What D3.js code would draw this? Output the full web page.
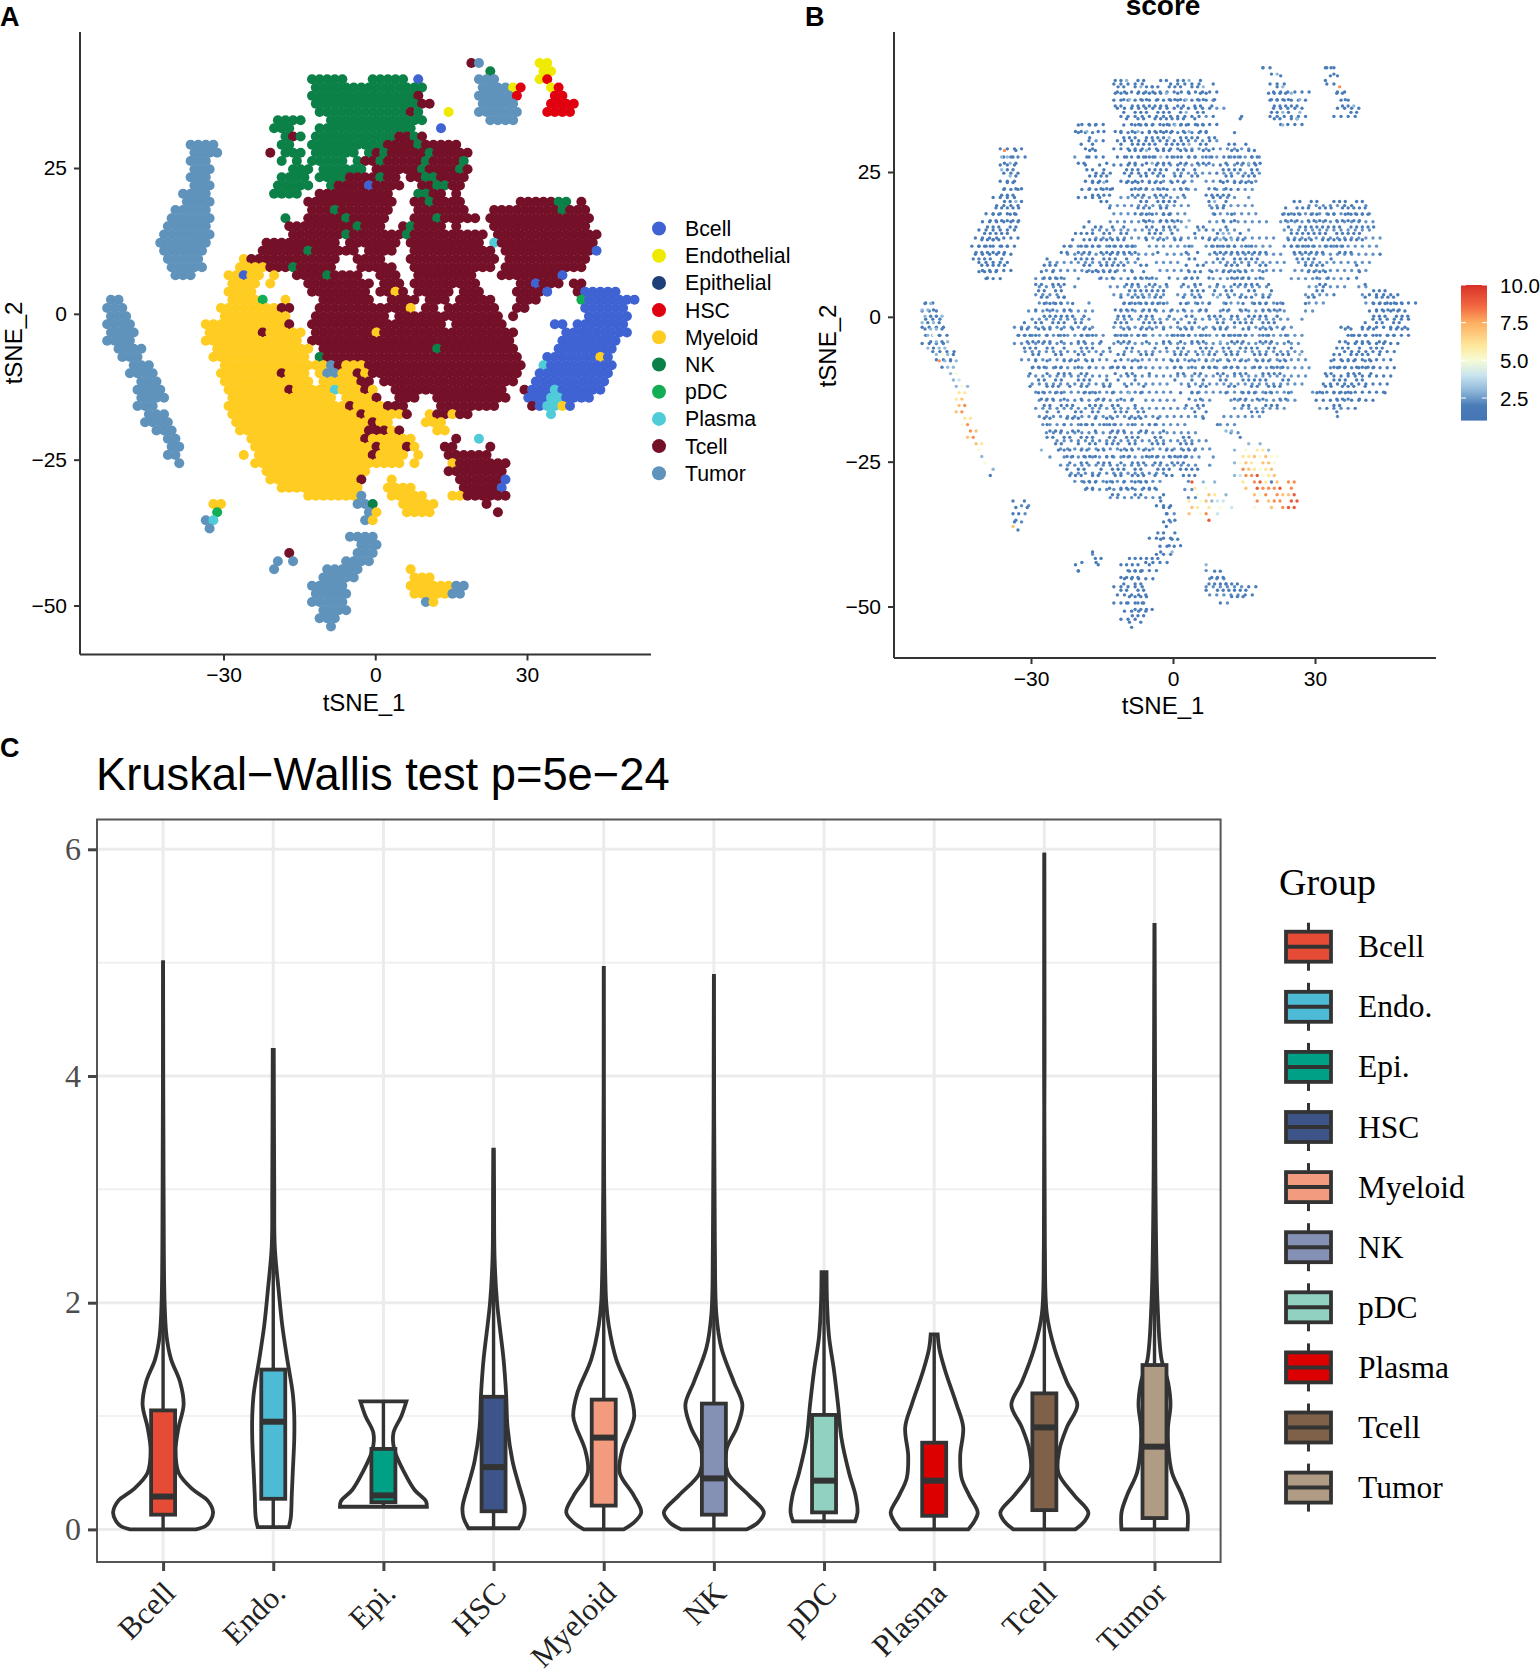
<!DOCTYPE html>
<html>
<head>
<meta charset="utf-8">
<script src="https://cdn.jsdelivr.net/npm/d3@7"></script>
<style>
body { margin: 0; background: #fff; }
text { font-family: "Liberation Sans", Arial, sans-serif; fill: #000; }
.serif text, text.serif { font-family: "Liberation Serif", "Times New Roman", serif; }
</style>
</head>
<body>
<svg width="1540" height="1669"></svg>
<script>
// cell types of panel A
var clusterNames = ["Bcell","Endothelial","Epithelial","HSC","Myeloid","NK","pDC","Plasma","Tcell","Tumor"]
var clusterColors = ["#3f63d3","#eeea00","#1f3f78","#e0000f","#ffcc22","#0b8148","#12ad55","#50ccd8","#751029","#5f93bc"]
var clusterKeys = ["B","E","I","H","M","N","P","S","T","U"]
// usual score of each cell type in panel B
var clusterScores = [2,2,2,2,2.3,2,2.3,2.2,2.4,2]

// panel A cells: one string per row, "col:cells", top row first
var mapRowsA = [
"48:TU 57:EE","50:N 57:EE",
"27:NNNNN 35:NNNNN 41:B 49:UUU 57:EH",
"27:NNNNNNNNNNNNNN 41:N 49:UUUU 53:E 54:H 58:EH",
"27:NNNNNNNNNNNNNNN 41:T 49:UUUUU 54:H 59:HH",
"27:NNNNNNNNNNNNNN 41:TT 49:UUUUU 58:HHHH",
"28:NNNNNNNNNNNNTN 45:E 49:UUUUUU 58:HHHH",
"22:NNNN 29:NNNNNNNNNNNN 41:N 50:UUU 53:U",
"22:NNN 28:NNNNNNNNNNNNN 44:B",
"23:NTN 27:NNNNNNNNNNNTTNT",
"11:UUUU 23:NN 27:NNNNNNNNNNTTTTNTTTTT",
"11:UUUU 21:T 23:NNN 27:NNNNNN 34:NTNTTTTTNTTTTT",
"11:UUU 23:N 25:N 27:NNNNN 33:NTTNTTTTTNTTTTN",
"11:UUU 24:NNN 28:NNNNNN 35:TTTTTTNTTTTNT",
"11:UUU 23:NNNN 28:NNNNTTTTNTT 40:TTNNTTTT",
"11:UUU 22:NNNNN 29:NTTTTBTTTT 41:TTNNTT",
"10:UUUU 22:NNNN 28:TTTTTTTTTT 41:NNTT 46:T",
"10:UUUU 26:TTTTTTTTTTTT 40:TTNTTTT 54:TTTTT 59:NN 62:T",
"9:UUUUU 27:TTTNTTTTTTT 41:TTTTTTT 51:TTTTTTTTTNTTT",
"8:UUUUUU 23:N 26:TTTTTNTTTTT 40:TTTNTTTTT 50:TTTTTTTTTTTTTT",
"8:UUUUUU 24:TTTTTTTTTNTTT 39:TNTTTT 46:T 51:TTTTTTTTTTTTT",
"7:UUUUUUU 24:TTTTTTTNTTTTTTTNTTTTTTTTTT 51:TTTTTTTTTTTTTT",
"7:UUUUUUU 21:TTTTTTTTTT 32:TTTTTTT 40:TTTTTTTTTT 51:STTTTTTTTTTTTT",
"7:UUUUUU 20:TTTTTTNTTTTTT 34:TTTT 40:TTTTTTTTTTT 52:TTTTTTTTTTTTB",
"8:UUUUU 18:MTTTTTTTTTTTT 33:TTTT 40:TTTTTTTTTTTT 53:TTTTTTTTTTT",
"8:UUUUU 17:MMMMTTTNTTTTT 33:TTTTT 40:TTTTTTTTTTT 52:TTTTTTTTTTT",
"9:UUU 16:MMBMM 22:M 25:TTTTNTTTT 36:TTT 41:TTTTTTTT 52:TTTTTTTTB",
"16:MMMM 21:M 26:TTTTTTTTT 36:TTT 40:TTTTTTTTT 54:TTBTTT 61:TT",
"16:MMMM 27:TTTTTTTT 36:TTMT 41:TTTTT 47:TTT 54:TTTTB 62:TBBBBB",
"0:UU 16:MMMMP 23:M 28:TTTTTTT 37:TTTT 42:TTT 46:TTTTT 54:TTT 62:PBBBBBBB",
"0:UUU 15:MMMMMMMMT 24:T 28:TTTTTTTT 36:TTTTM 42:TT 45:TTTTTTT 54:TT 63:BBBBBB",
"0:UUU 15:MMMMMMMMM 27:TTTTTTTTTT 38:TTTTTTTTTTTTTT 53:T 63:BBBBBB",
"0:UUUU 13:MMMMMMMMMMMT 27:TTTTTTTTTTTTTTTTTT 46:TTTTTTT 59:BB 62:BBBBBBB",
"0:UUUU 13:MMMMMMMTMMMMM 27:TTTTTTTTMTTTTTTTTTTTTTTTTTT 60:BBBBBBBBB",
"0:UUUU 13:MMMMMMMMMMMMM 27:TTTTTTT 34:TTTTTTTTTTTTTTTTTTTT 60:BBBBBBBB",
"1:UUUU 14:MMMMMMMMMMMMM 28:TTTTT 33:TTTTTTTTTTNTTTTTTTTTT 59:BBBBBBBB",
"2:UUU 14:MMMMMMMMMMMMM 28:NTTTTT 34:TTTTTTTTTTTTTTTTTTTTT 58:BBBBBBBMB",
"3:UUU 15:MMMMMMMMMMMMM 28:MUTMMMT 35:TTTTTTTTTTTTTTTTTTTT 57:SBBBBBBBBB",
"3:UUUU 15:MMMMMMMMTMMM 28:MUUMMTM 35:TTTTTTTTTTTTTTTTTTTT 57:BBBBBBBBBB",
"4:UUU 15:MMMMMMMMMMMM 28:MMMMMTT 36:TTTTTTTTTTTTTTTTTT 56:BBBBBBBBBB",
"4:UUUU 16:MMMMMMMMTMMMM 29:MSMMMTM 38:TTTTTTTTTTTTTTT 55:TBBBSBBBBBB",
"4:UUUU 16:MMMMMMMMMMMMMM 31:MMMMT 38:TTT 43:TTTTTTTTTT 55:BBB 58:SS 60:BBBB",
"4:UUU 16:MMMMMMMMMMMMMMMMTMMMM 37:TTT 44:TTTTTTTT 56:TBSSMB",
"5:UUU 16:MMMMMMMMMMMMMMMMMTMMMMMT 42:MTTM 46:TT 58:S",
"5:UUUU 17:MMMMMMMMMMMMMMMMMMTMM 42:MMM",
"6:UUU 17:MMMMMMMMMMMMMMMMMTTTMT 43:MM",
"8:UU 19:MMMMMMMMMMMMMMMTMMMMMM 46:T 49:S",
"8:UU 19:MMMMMMMMMMMMMMMMTMMMTM 44:TT 50:T",
"8:UU 18:M 20:MMMMMMMMMMMMMMMTMMMM 41:M 45:TTTTTT",
"9:U 19:MMMMMMMMMMMMMMMMMMMM 40:M 45:MTTTTTTT",
"21:MMMMMMMMMMMMMM 45:TTTTTTTT",
"21:MMMMMMMMMMMMT 37:M 46:TTTTTTB",
"23:MMMMMMMMMMM 37:MMMM 47:TTTTTB",
"26:MMMMMMMU 37:MMMMM 45:MMTTTTTT",
"14:MM 33:UUN 39:MMMMM 50:T",
"14:P 34:UM 39:MMMM 51:T",
"13:US 34:UM","13:U","32:UUUU","33:UUU",
"24:T 33:UUU","22:U 24:U 31:UUUU","22:U 29:UUUUU 40:M","28:UUUUU 40:MMM",
"27:UUUUU 40:MMMMMMUU","27:UUUUU 40:MMMMMUU","27:UUUUU 42:UM","28:UUUU","28:UUU","29:U"
]

// panel B cells: digit = score, 0 = gap
var mapRowsB = [
"60:2 71:22","61:23 72:2",
"34:223022 42:22022302 71:2",
"34:2202322 40:220222 47:223 62:23 73:8",
"34:222022 40:222302 47:2022 61:22223 73:22",
"35:23022 41:202223 48:22 51:2 61:222203 74:2",
"34:220222 40:2222022022 51:2 62:22222 74:223",
"35:2022 39:20222023022 61:2232 66:3 75:22",
"36:2 38:22022222202 56:2 62:22022 66:3",
"27:2022 35:2 37:2222022322022 63:3",
"27:223022 34:22023022222023022",
"29:20 35:22202222302222022",
"28:2 30:2 35:2022222022223022 54:2202",
"14:8 16:2 29:22 36:222302220222 49:22 54:22022",
"14:3 15:32 29:2 36:2022223022 47:22022 54:222022",
"14:23 16:2 27:220 32:2 36:22023222 45:220222 53:2022322",
"14:322 29:220 32:2 36:22202222 45:2202 53:2222022",
"15:32 29:2222 36:2022022 44:22022 53:220222",
"15:22 30:223 36:2220222 44:202 53:20222 58:2",
"14:2 16:22 29:2022 33:2 37:222022 45:22 50:2202",
"14:222 30:2222 37:2220222 46:2 50:22222",
"14:2232 31:22 38:22022 42:222 50:2302 65:22022 72:222022",
"13:22222 33:2 38:22202 42:220 51:222 64:2 66:22202 71:22022222",
"12:22022 38:222022 42:22 51:2 54:2 63:2222022022022222",
"12:222222 39:2202222 47:3 53:2 55:2 64:22202222022222",
"11:222022 28:2 30:22 33:202 39:220222 46:3 48:22 53:2 64:2022222222022222",
"11:22222 27:2222022 35:22 40:222 44:2 48:2 52:23302 65:2222222022222",
"10:2222 12:2 26:2 28:2222222 35:2 39:2 41:22 44:22 50:2232322 64:22222022222222",
"10:222022 25:22 28:2222022222 37:2 47:2 51:22222022 65:2222202222",
"9:222222 24:22 27:222022222 36:22 41:2 46:2 48:2 51:2222222222 65:222222 73:222",
"9:2222 14:2 22:2 27:22220222 36:2 38:2 47:22 52:220222 58:22 66:2222 72:2",
"10:22222 21:222 28:22022222 38:22 46:2 48:22 53:22202 59:22 67:2222 76:2",
"10:2222 21:2 23:2 29:222222 37:2 39:2 47:222 51:2 53:22222 60:2 68:2222 77:2",
"11:2 21:2222 31:2 33:2 37:2222 43:2 46:222 50:2 54:2222 59:2 69:2 71:2 76:2",
"20:220222 36:222022 43:2 46:2 48:22 52:2 55:22 57:222 61:2 70:22 78:2",
"20:2202 24:2 36:2222222 47:222 51:2 53:22 57:22 61:2 69:22 79:222",
"21:22022 25:2 35:2 37:222322 46:2 48:22 52:3 54:2 56:222 60:22 68:22 78:2 80:2222",
"0:23 21:2222 26:2 35:22222222 45:22 48:2 50:2 53:2 56:2 58:222 62:22 67:2 79:222222",
"0:332 20:2 22:22 25:22 34:2222 39:222 44:2 46:2 49:22 53:22 56:22 60:2222 80:2222 84:2",
"0:3223 21:222 24:222 28:2 34:222 38:222 43:2 46:22 50:222 54:22 57:2222 62:2 79:222 83:222",
"0:3232 18:2 20:22 23:222 27:22 34:222 39:2222 45:2 47:22 52:22 55:2222 60:222 78:2 80:22022",
"0:2332 17:22 20:222 24:2 26:2 28:22 35:22 38:222 42:2 45:222 49:2 51:222 56:22 59:222 63:2 74:22 77:222 82:2222",
"1:352 17:2222 22:2 24:22 28:222 34:222 38:22 44:2222 49:22 53:22222 60:22 64:2 75:2222 80:2 82:22",
"1:2323 18:22222 24:2 27:22 31:2 34:222 39:2 42:22 45:2 47:222 52:3 54:222 59:222 64:2 73:22 76:222 80:22",
"1:3233 18:222 22:22 25:2 28:222 33:2 36:22 41:2 43:2 45:22 49:222 53:22 56:2222 61:22 65:2 73:222 77:2 79:222",
"2:3532 19:22 23:22 27:22 31:2 34:22 38:222 44:222 48:2322 53:222 58:222 62:222 66:3 72:22 75:2222 80:2",
"3:8323 20:2 22:2 25:222 29:22 34:2 37:22 44:22 47:22 50:232 54:2 56:22 59:222 63:22 72:2 74:222 78:22",
"3:23 5:3 19:222 23:22 27:2 29:2 33:222 38:2 44:22 47:2 49:222 53:222 58:22 61:222 72:222 76:2222",
"5:35 19:2 22:2 24:222 28:22 34:2 36:22 40:2 45:22 48:22 52:22 55:222 60:2222 71:22 75:222 79:2",
"5:34 20:22 23:22 27:222 32:2 34:2 37:2 44:2 47:2 49:2 52:22 56:222 59:22 63:22 72:222 76:22",
"6:353 19:2 22:222 26:2 28:22 32:22 36:2 39:2 47:2 49:22 54:22 58:22 61:222 71:22 74:222 78:2",
"6:66 20:22 23:22 28:222 33:2 36:3 38:2 45:2 47:22 53:2 56:222 60:22 64:2 69:22 72:222 75:2 81:2",
"6:67 21:222 25:2 28:2 31:22 35:2 37:2 47:2 49:2 55:222 59:22 63:22 73:222 77:2",
"6:78 21:22 24:222 29:222 33:22 37:2 46:2 48:22 56:22 60:222 72:22",
"6:78 22:2 24:2 27:22 30:22 34:222 38:22 48:2 50:2 58:222 73:2",
"7:66 21:22 25:222 30:2 32:22 36:222 41:2 49:2",
"7:58 22:2 25:2 28:222 32:222 37:2 40:22 52:2",
"8:87 22:222 26:22 30:2 33:222 38:22 42:2 53:33",
"8:78 22:22 25:22 28:222 33:22 36:222 41:22 46:22 56:2",
"9:76 23:22 27:2 29:22 32:222 36:22 40:222 45:222 57:3 59:3",
"10:5 21:3 24:222 28:22 31:22 35:222 39:22 43:22 46:222 55:3 57:5 59:66 61:3",
"10:3 25:22 28:222 32:22 35:22 39:222 43:2222 46:2 56:66 58:757 61:55",
"11:5 26:2 28:22 31:222 35:2 37:222 41:22 44:222 55:357 58:6 60:775",
"12:3 25:2 27:22 31:2 33:222 37:22 41:222 45:2222 56:8 57:76 59:5 60:67",
"12:2 26:222 30:22 34:22 37:222 41:2 43:22 46:222 55:34 57:889 60:56 62:7",
"28:222 32:22 35:2 37:222 47:9 49:3 51:3 56:6 58:8962 62:7 64:88",
"29:22 33:2 35:222 39:22 41:2 48:6 50:5 57:7 59:988 62:89 65:8",
"33:22 37:22 42:2 48:5 50:76 53:3 58:75 60:8 62:87 64:79",
"16:2 18:2 42:2 47:6 49:573 52:44 59:8 61:78 63:8 65:99",
"16:2 18:2 42:22 47:76 50:6 52:5 54:4 58:5 61:7 63:8 64:99",
"16:2 17:2 43:2 47:7 49:58 52:4",
"16:2 43:22 50:9","16:7 43:2","41:22 44:2","42:2 44:22","43:2 45:2",
"30:2 42:2 44:3","30:22 36:22 38:222 41:2","27:2 31:2 35:2222 40:2 50:3",
"27:2 36:222 38:2 51:22","35:2222 51:222","35:2022 50:2222 53:222",
"35:22 38:22 50:2 52:222222","36:222 39:2 54:222","36:2 38:22","37:222 40:2","37:22 39:2","36:2 38:2"
]
// high-score patches of panel B [xmin,xmax,ymin,ymax], only the digit map is used there
var hotZones = [[12,27,-36,-20],[5,16,-36,-27],[-50,-38,-28,-8]]

var tsneXTicks = [-30,0,30]
var tsneYTicks = [25,0,-25,-50]

// score colour bar
var scoreStops = [1,2,3,4,5,6,7.5,8.5,10]
var scoreColors = ["#4575b4","#4a7cb8","#8fb8d8","#c9e4ef","#f6fbd6","#fee79a","#fdae61","#f46d43","#d73027"]
var scoreTicks = [2.5,5,7.5,10]

// panel C
var groups = ["Bcell","Endo.","Epi.","HSC","Myeloid","NK","pDC","Plasma","Tcell","Tumor"]
var groupColors = ["#E64B35","#4DBBD5","#00A087","#3C5488","#F39B7F","#8491B4","#91D1C2","#DC0000","#7E6148","#B09C85"]
var boxLow = [0.13,0.27,0.24,0.16,0.21,0.13,0.15,0.12,0.17,0.10]
var boxMed = [0.29,0.95,0.30,0.55,0.81,0.45,0.43,0.43,0.90,0.73]
var boxHigh = [1.05,1.41,0.71,1.17,1.145,1.11,1.01,0.765,1.20,1.45]

// violin outlines: [value, relative half width]
var violinBcell = [[0,.66],[.03,.85],[.08,.95],[.15,1],[.25,.9],[.35,.6],[.5,.31],[.7,.25],[.9,.31],[1.1,.41],[1.3,.34],[1.5,.16],[1.7,.07],[2,.03],[3,.01],[5.02,0]]
var violinEndo = [[.02,.31],[.1,.35],[.3,.37],[.5,.39],[.8,.42],[1,.42],[1.2,.39],[1.5,.28],[1.8,.18],[2.1,.11],[2.5,.03],[3,.02],[4.23,.01]]
var violinEpi = [[.2,.87],[.25,.85],[.35,.62],[.5,.42],[.7,.22],[.85,.2],[1,.36],[1.13,.46]]
var violinHSC = [[.01,.5],[.1,.6],[.2,.62],[.4,.5],[.6,.38],[.9,.28],[1.2,.25],[1.5,.2],[2,.07],[2.4,.02],[3,.01],[3.35,.005]]
var violinMyeloid = [[0,.4],[.06,.6],[.15,.75],[.3,.6],[.5,.32],[.7,.37],[.9,.55],[1,.61],[1.2,.53],[1.5,.25],[1.8,.1],[2,.05],[3,.01],[4.97,0]]
var violinNK = [[0,.65],[.06,.88],[.15,1],[.3,.7],[.5,.28],[.7,.25],[.9,.46],[1.1,.57],[1.3,.4],[1.6,.15],[1.9,.05],[2.5,.02],[4.9,0]]
var violinPDC = [[.07,.62],[.15,.67],[.3,.63],[.5,.5],[.8,.35],[1.1,.28],[1.4,.2],[1.7,.1],[2,.06],[2.27,.05]]
var violinPlasma = [[0,.68],[.07,.8],[.15,.87],[.3,.7],[.45,.55],[.65,.52],[.9,.58],[1.1,.45],[1.4,.22],[1.6,.1],[1.72,.07]]
var violinTcell = [[0,.62],[.07,.8],[.15,.88],[.3,.6],[.5,.28],[.7,.3],[.9,.45],[1.1,.66],[1.3,.45],[1.6,.2],[1.9,.05],[2.5,.01],[5.97,0]]
var violinTumor = [[0,.66],[.15,.66],[.3,.55],[.5,.35],[.7,.28],[.9,.27],[1.1,.32],[1.3,.27],[1.5,.14],[2,.06],[3,.02],[3.5,.015],[5.35,0]]
var violins = [violinBcell,violinEndo,violinEpi,violinHSC,violinMyeloid,violinNK,violinPDC,violinPlasma,violinTcell,violinTumor]

var svg = d3.select("svg")
var ink = "#333"

// reads a row list into cells on a staggered grid in tSNE units
function readCells(rows, stepX, stepY) {
  var cells = []
  rows.forEach(function(row, i) {
    row.split(" ").forEach(function(tok) {
      var p = tok.split(":")
      p[1].split("").forEach(function(c, k) {
        if (c == "0") return
        cells.push({
          x: -53 + stepX * (+p[0] + k + (i % 2 ? 0.5 : 0)),
          y: 43 - stepY * i,
          key: c
        })
      })
    })
  })
  return cells
}

function tsneAxes(xs, ys, left, right, top, bottom) {
  var ax = svg.append("g").attr("transform","translate(0,"+bottom+")")
    .call(d3.axisBottom(xs).tickValues(tsneXTicks).tickSize(6).tickSizeOuter(0).tickPadding(7))
  var ay = svg.append("g").attr("transform","translate("+left+",0)")
    .call(d3.axisLeft(ys).tickValues(tsneYTicks).tickSize(6).tickSizeOuter(0).tickPadding(7))
  ;[ax,ay].forEach(function(a) {
    a.select("path").remove()
    a.selectAll("line").attr("stroke",ink).attr("stroke-width",2)
    a.selectAll("text").style("font-size","21px").style("font-family","Liberation Sans").attr("fill","#000")
  })
  svg.append("line").attr("x1",left).attr("x2",left).attr("y1",top).attr("y2",bottom).attr("stroke",ink).attr("stroke-width",2)
  svg.append("line").attr("x1",left).attr("x2",right).attr("y1",bottom).attr("y2",bottom).attr("stroke",ink).attr("stroke-width",2)
}

function axisTitles(xCenter, xBase, yCenter, yBase) {
  svg.append("text").text("tSNE_1").attr("x",xCenter).attr("y",xBase)
    .attr("text-anchor","middle").style("font-size","24px")
  svg.append("text").text("tSNE_2").attr("text-anchor","middle").style("font-size","24px")
    .attr("transform","translate("+yBase+","+yCenter+") rotate(-90)")
}

// Panel A
var xA = d3.scaleLinear().domain([-30,30]).range([223.5,527])
var yA = d3.scaleLinear().domain([25,-50]).range([168,605.5])
var colorA = d3.scaleOrdinal().domain(clusterKeys).range(clusterColors)
var cellsA = readCells(mapRowsA,1.5,1.4)

svg.append("g").selectAll("circle").data(cellsA).enter().append("circle")
  .attr("cx", function(d){return xA(d.x)})
  .attr("cy", function(d){return yA(d.y)})
  .attr("r", 5)
  .attr("fill", function(d){return colorA(d.key)})

tsneAxes(xA, yA, 80, 651, 32, 654.5)
axisTitles(364, 711, 343, 22)

var legA = svg.append("g").selectAll("g").data(clusterNames).enter().append("g")
  .attr("transform", function(d,i){return "translate(659,"+(228.5+i*27.2)+")"})
legA.append("circle").attr("r",7).attr("fill", function(d,i){return clusterColors[i]})
legA.append("text").text(function(d){return d}).attr("x",26).attr("y",7.5).style("font-size","21.3px")

// Panel B
var xB = d3.scaleLinear().domain([-30,30]).range([1031,1315])
var yB = d3.scaleLinear().domain([25,-50]).range([172,606.5])
var scoreColor = d3.scaleLinear().domain(scoreStops).range(scoreColors)
var cellScore = d3.scaleOrdinal().domain(clusterKeys).range(clusterScores)

// same cells as panel A, outside the high-score patches
var baseCells = cellsA.filter(function(d) {
  return !hotZones.some(function(z){return d.x>z[0] && d.x<z[1] && d.y>z[2] && d.y<z[3]})
})
svg.append("g").selectAll("circle").data(baseCells).enter().append("circle")
  .attr("cx", function(d){return xB(d.x)})
  .attr("cy", function(d){return yB(d.y)})
  .attr("r", 1.7)
  .attr("fill", function(d){return scoreColor(cellScore(d.key))})

svg.append("g").selectAll("circle").data(readCells(mapRowsB,1.2,1.1)).enter().append("circle")
  .attr("cx", function(d){return xB(d.x)})
  .attr("cy", function(d){return yB(d.y)})
  .attr("r", 1.7)
  .attr("fill", function(d){return scoreColor(+d.key)})

tsneAxes(xB, yB, 894, 1436, 32, 658)
axisTitles(1163, 714, 346, 836)

svg.append("text").text("score").attr("x",1163).attr("y",15).attr("text-anchor","middle")
  .style("font-size","28px").style("font-weight","bold")

// colour bar
var barScale = d3.scaleLinear().domain([2.5,10]).range([398,285])
var grad = svg.append("defs").append("linearGradient").attr("id","scoreBar")
  .attr("x1",0).attr("x2",0).attr("y1",1).attr("y2",0)
grad.selectAll("stop").data(scoreStops).enter().append("stop")
  .attr("offset", function(d){return (d-1)/9})
  .attr("stop-color", function(d,i){return scoreColors[i]})
svg.append("rect").attr("x",1461).attr("width",26).attr("y",barScale(10)).attr("height",barScale(1)-barScale(10))
  .attr("fill","url(#scoreBar)")
var barTicks = svg.append("g").selectAll("g").data(scoreTicks).enter().append("g")
  .attr("transform", function(d){return "translate(0,"+barScale(d)+")"})
barTicks.append("line").attr("x1",1461).attr("x2",1466).attr("stroke","#fff")
barTicks.append("line").attr("x1",1482).attr("x2",1487).attr("stroke","#fff")
barTicks.append("text").text(function(d){return d3.format(".1f")(d)}).attr("x",1500).attr("y",7.5).style("font-size","20.5px")

// panel letters
var letters = ["A","B","C"], letterX = [0,805,0], letterY = [26,26,757]
letters.forEach(function(l,i) {
  svg.append("text").text(l).attr("x",letterX[i]).attr("y",letterY[i])
    .style("font-size","27px").style("font-weight","bold")
})

// Panel C
var left = 97, right = 1220.6, top_ = 819.5, bottom = 1562
var xC = d3.scalePoint().domain(groups).range([left,right]).padding(0.6)
var yC = d3.scaleLinear().domain([0,6]).range([1529.4,849.3])
var halfW = d3.scaleLinear().domain([0,1]).range([0,50])

svg.append("text").text("Kruskal\u2212Wallis test p=5e\u221224").attr("x",96).attr("y",790).style("font-size","45.3px")

var grid = svg.append("g")
;[1,3,5].forEach(function(v) {
  grid.append("line").attr("x1",left).attr("x2",right).attr("y1",yC(v)).attr("y2",yC(v)).attr("stroke","#eee").attr("stroke-width",1.6)
})
yC.ticks(4).forEach(function(v) {
  grid.append("line").attr("x1",left).attr("x2",right).attr("y1",yC(v)).attr("y2",yC(v)).attr("stroke","#ececec").attr("stroke-width",3)
})
groups.forEach(function(g) {
  grid.append("line").attr("x1",xC(g)).attr("x2",xC(g)).attr("y1",top_).attr("y2",bottom).attr("stroke","#ececec").attr("stroke-width",3)
})

var violinArea = d3.area().curve(d3.curveCatmullRom.alpha(0.5))
violins.forEach(function(v,i) {
  var c = xC(groups[i])
  violinArea.y(function(d){return yC(d[0])})
    .x0(function(d){return c - halfW(d[1])})
    .x1(function(d){return c + halfW(d[1])})
  svg.append("path").attr("d",violinArea(v)).attr("fill","#fff").attr("stroke",ink).attr("stroke-width",3.8)
  // centre line to the ends of the violin
  svg.append("line").attr("x1",c).attr("x2",c).attr("y1",yC(v[0][0])).attr("y2",yC(v[v.length-1][0]))
    .attr("stroke",ink).attr("stroke-width",3.4)
  svg.append("rect").attr("x",c-12).attr("width",24).attr("y",yC(boxHigh[i])).attr("height",yC(boxLow[i])-yC(boxHigh[i]))
    .attr("fill",groupColors[i]).attr("stroke",ink).attr("stroke-width",3.8)
  svg.append("line").attr("x1",c-12).attr("x2",c+12).attr("y1",yC(boxMed[i])).attr("y2",yC(boxMed[i]))
    .attr("stroke",ink).attr("stroke-width",6)
})

svg.append("rect").attr("x",left).attr("y",top_).attr("width",right-left).attr("height",bottom-top_)
  .attr("fill","none").attr("stroke","#555").attr("stroke-width",2)

var axC = svg.append("g").attr("transform","translate(0,"+bottom+")")
  .call(d3.axisBottom(xC).tickSize(9).tickSizeOuter(0).tickFormat(""))
axC.selectAll("line").attr("stroke","#444").attr("stroke-width",3)
axC.select("path").remove()
axC.selectAll("text").remove()
groups.forEach(function(g) {
  svg.append("text").text(g).attr("class","serif")
    .attr("text-anchor","end")
    .attr("transform","translate("+(xC(g)+14)+",1595) rotate(-45)")
    .style("font-size","31px").style("fill","#222")
})

var ayC = svg.append("g").attr("transform","translate("+left+",0)").attr("class","serif")
  .call(d3.axisLeft(yC).ticks(4).tickSize(9).tickSizeOuter(0).tickPadding(7))
ayC.select("path").remove()
ayC.selectAll("line").attr("stroke","#444").attr("stroke-width",3)
ayC.selectAll("text").style("font-size","32px").style("fill","#4d4d4d")

// Group legend
svg.append("text").text("Group").attr("class","serif").attr("x",1279).attr("y",895).style("font-size","38px")
var legC = svg.append("g").selectAll("g").data(groups).enter().append("g")
  .attr("transform", function(d,i){return "translate(0,"+(946.7+i*60.1)+")"})
legC.append("line").attr("x1",1308.5).attr("x2",1308.5).attr("y1",-24).attr("y2",24).attr("stroke",ink).attr("stroke-width",3)
legC.append("rect").attr("x",1286).attr("y",-15).attr("width",45).attr("height",30)
  .attr("fill", function(d,i){return groupColors[i]}).attr("stroke",ink).attr("stroke-width",3.8)
legC.append("line").attr("x1",1286).attr("x2",1331).attr("stroke",ink).attr("stroke-width",4)
legC.append("text").text(function(d){return d}).attr("class","serif").attr("x",1358).attr("y",10.5).style("font-size","31.5px")
</script>
</body>
</html>
